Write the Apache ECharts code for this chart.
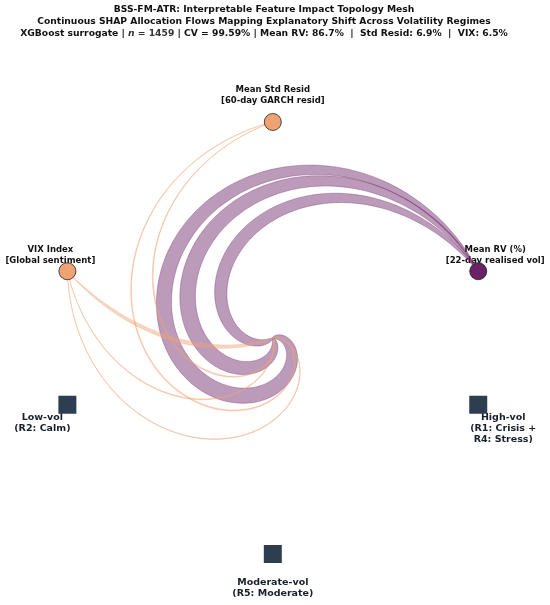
<!DOCTYPE html>
<html>
<head>
<meta charset="utf-8">
<script src="https://cdn.jsdelivr.net/npm/echarts@6/dist/echarts.min.js"></script>
<style>
html, body { margin: 0; padding: 0; background: #fff; }
#chart { width: 550px; height: 605px; }
</style>
</head>
<body>
<div id="chart"></div>
<script>
// source nodes (features) and target nodes (regimes)
var features = ['Mean Std Resid', 'Mean RV (%)', 'VIX Index'];
var featureNotes = ['[60-day GARCH resid]', '[22-day realised vol]', '[Global sentiment]'];
var regimes = ['High-vol', 'Low-vol', 'Moderate-vol'];
var regimeNotes = ['(R1: Crisis +\nR4: Stress)', '(R2: Calm)', '(R5: Moderate)'];

// SHAP share (%) of each feature inside each regime, order = regimes
// (no visible Std Resid flow into Low-vol)
var stdResidShare = [6, 0, 6];
var meanRvShare = [90, 72, 89];
var vixShare = [4, 21, 5];

// layout: nodes sit on a unit circle, angle in degrees
var featureAngles = [90, 18, 162];
var regimeAngles = [-18, 198, 270];
var featureColors = ['#efa274', '#6a2166', '#efa274'];
var labelOffsets = [[0, -27], [17, -16], [-17, -16]];
var regimeLabelOffsets = [[25, 24], [-25, 18], [0, 34]];

var shares = [stdResidShare, meanRvShare, vixShare];

function polar(deg, r) {
	var a = deg * Math.PI / 180;
	return [r * Math.cos(a), r * Math.sin(a)];
}

// flow path: spiral from the feature node in to the hub
function spiralPoint(a0, sweep, t) {
	return polar(a0 + sweep * t, Math.pow(1 - t, 1.3));
}

function hexAlpha(hex, a) {
	var n = parseInt(hex.slice(1), 16);
	return 'rgba(' + (n >> 16) + ',' + ((n >> 8) & 255) + ',' + (n & 255) + ',' + a + ')';
}

var flowData = [];
[1, 0, 2].forEach(function (fi) {
	regimes.forEach(function (r, ri) {
		if (shares[fi][ri] > 0) flowData.push([fi, ri, shares[fi][ri]]);
	});
});

var chart = echarts.init(document.getElementById('chart'));

chart.setOption({
	backgroundColor: '#fff',
	animation: false,
	title: {
		left: 259,
		textAlign: 'center',
		top: -1,
		text: '{b|BSS-FM-ATR: Interpretable Feature Impact Topology Mesh}\n' +
			'{b|Continuous SHAP Allocation Flows Mapping Explanatory Shift Across Volatility Regimes}\n' +
			'{b|XGBoost surrogate | }{i|n}{m| = 1459}{b| | CV = 99.59% | Mean RV: 86.7%  |  Std Resid: 6.9%  |  VIX: 6.5%}',
		textStyle: {
			rich: {
				b: { fontFamily: 'DejaVu Sans', fontWeight: 'bold', fontSize: 9.2, color: '#111', lineHeight: 12 },
				i: { fontFamily: 'DejaVu Sans', fontStyle: 'italic', fontSize: 9.2, color: '#333', lineHeight: 12 },
				m: { fontFamily: 'DejaVu Sans', fontSize: 9.2, color: '#333', lineHeight: 12 }
			}
		}
	},
	grid: { left: 0, right: 0, top: 0, bottom: 0 },
	xAxis: { type: 'value', min: -1.263, max: 1.2833, show: false },
	yAxis: { type: 'value', min: -1.2361, max: 1.5648, show: false },
	series: [
		{
			// node labels, under the flows
			type: 'scatter',
			z: 1,
			symbolSize: 0,
			silent: true,
			itemStyle: { opacity: 1 },
			data: features.map(function (f, i) {
				return {
					value: polar(featureAngles[i], 1),
					label: {
						show: true,
						formatter: f + '\n' + featureNotes[i],
						offset: labelOffsets[i],
						fontFamily: 'DejaVu Sans',
						fontWeight: 'bold',
						fontSize: 8.5,
						lineHeight: 11,
						color: '#111',
						align: 'center',
						verticalAlign: 'middle'
					}
				};
			}).concat(regimes.map(function (r, i) {
				return {
					value: polar(regimeAngles[i], 1),
					label: {
						show: true,
						formatter: r + '\n' + regimeNotes[i],
						offset: regimeLabelOffsets[i],
						fontFamily: 'DejaVu Sans',
						fontWeight: 'bold',
						fontSize: 9.5,
						lineHeight: 11,
						color: '#17202a',
						align: 'center',
						verticalAlign: 'middle'
					}
				};
			}))
		},
		{
			type: 'custom',
			z: 2,
			clip: false,
			silent: true,
			data: flowData,
			renderItem: function (params, api) {
				var fi = api.value(0), ri = api.value(1), share = api.value(2);
				var a0 = featureAngles[fi];
				var sweep = ((((regimeAngles[ri] - a0) % 360) + 360) % 360) * 1.15;
				var N = 140;
				var pts = [];
				for (var i = 0; i <= N; i++) {
					pts.push(api.coord(spiralPoint(a0, sweep, i / N)));
				}
				var left = [], right = [];
				for (i = 0; i <= N; i++) {
					var p0 = pts[Math.max(i - 1, 0)], p1 = pts[Math.min(i + 1, N)];
					var dx = p1[0] - p0[0], dy = p1[1] - p0[1];
					var len = Math.sqrt(dx * dx + dy * dy) || 1;
					var half = share * 0.175 * Math.pow(Math.sin(Math.PI * i / N), 0.7) / 2;
					left.push([pts[i][0] - dy / len * half, pts[i][1] + dx / len * half]);
					right.push([pts[i][0] + dy / len * half, pts[i][1] - dx / len * half]);
				}
				return {
					type: 'polygon',
					shape: { points: left.concat(right.reverse()) },
					style: {
						fill: hexAlpha(featureColors[fi], 0.45),
						stroke: hexAlpha(featureColors[fi], 0.55),
						lineWidth: 0.6
					}
				};
			}
		},
		{
			type: 'scatter',
			z: 3,
			silent: true,
			itemStyle: { opacity: 1 },
			data: features.map(function (f, i) {
				return {
					value: polar(featureAngles[i], 1),
					symbol: 'circle',
					symbolSize: 17,
					itemStyle: { color: featureColors[i], borderColor: '#222', borderWidth: 0.8, opacity: 1 }
				};
			}).concat(regimes.map(function (r, i) {
				return {
					value: polar(regimeAngles[i], 1),
					symbol: 'rect',
					symbolSize: 18,
					itemStyle: { color: '#2c3e50', opacity: 1 }
				};
			}))
		}
	]
});
</script>
</body>
</html>
